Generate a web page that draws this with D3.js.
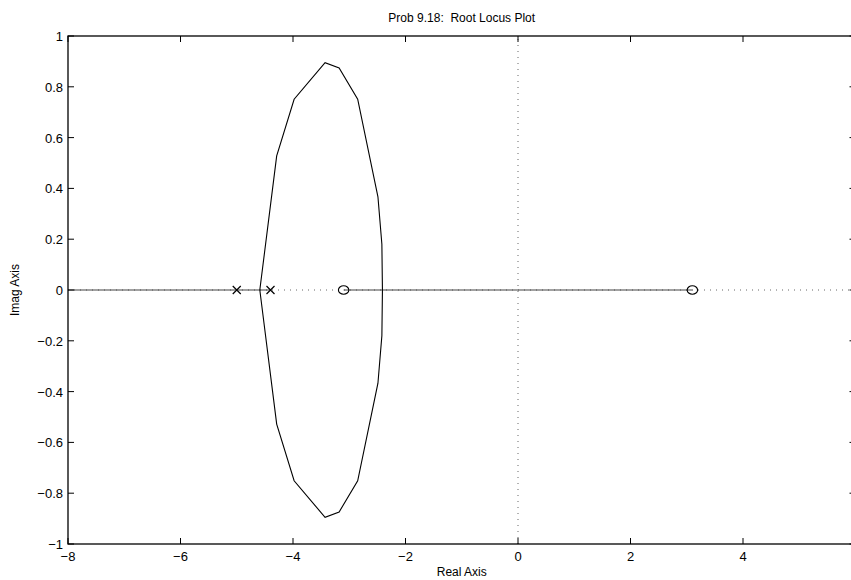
<!DOCTYPE html>
<html>
<head>
<meta charset="utf-8">
<script src="https://cdn.jsdelivr.net/npm/d3@7"></script>
<style>
  body { margin: 0; background: #fff; }
  text { font-family: "Liberation Sans", Arial, sans-serif; white-space: pre; }
</style>
</head>
<body>
<div id="chart"></div>
<script>
// root locus, upper half of the loop (lower half is the mirror image)
var loopRe = [-4.59, -4.29, -3.98, -3.43, -3.18, -2.85, -2.49, -2.42, -2.41];
var loopIm = [0, 0.528, 0.751, 0.895, 0.874, 0.751, 0.367, 0.18, 0];

// parts of the real axis that belong to the locus
var segStart = [-8, -3.1];
var segEnd = [-4.4, 3.1];

var poles = [-5, -4.4];
var zeros = [-3.1, 3.1];

var xTicks = [-8, -6, -4, -2, 0, 2, 4, 6];
var yTicks = [-1, -0.8, -0.6, -0.4, -0.2, 0, 0.2, 0.4, 0.6, 0.8, 1];

var width = 851, height = 580;
var mLeft = 68, mTop = 36, plotW = 787.5, plotH = 508;

var svg = d3.select('#chart').append('svg')
  .attr('width', width)
  .attr('height', height);

var x = d3.scaleLinear().domain([-8, 6]).range([mLeft, mLeft + plotW]);
var y = d3.scaleLinear().domain([-1, 1]).range([mTop + plotH, mTop]);

function fmt(v) {
  var s = d3.format('~g')(+v.toFixed(2));
  return s.replace('-', '\u2212');
}

svg.append('clipPath').attr('id', 'clip')
  .append('rect')
  .attr('x', mLeft).attr('y', mTop)
  .attr('width', plotW).attr('height', plotH);

var plot = svg.append('g').attr('clip-path', 'url(#clip)');

// dotted zero lines
plot.append('line')
  .attr('x1', x(-8)).attr('x2', x(6))
  .attr('y1', y(0)).attr('y2', y(0))
  .attr('stroke', '#666').attr('stroke-width', 1)
  .attr('stroke-dasharray', '1,5');
plot.append('line')
  .attr('x1', x(0)).attr('x2', x(0))
  .attr('y1', y(-1)).attr('y2', y(1))
  .attr('stroke', '#666').attr('stroke-width', 1)
  .attr('stroke-dasharray', '1,5');

// real axis locus
segStart.forEach(function(s, i) {
  plot.append('line')
    .attr('x1', x(s)).attr('x2', x(segEnd[i]))
    .attr('y1', y(0)).attr('y2', y(0))
    .attr('stroke', '#444').attr('stroke-width', 1.2);
});

var line = d3.line()
  .x(function(d) { return x(d[0]); })
  .y(function(d) { return y(d[1]); });

var upper = loopRe.map(function(r, i) { return [r, loopIm[i]]; });
var lower = loopRe.map(function(r, i) { return [r, -loopIm[i]]; });

[upper, lower].forEach(function(pts) {
  plot.append('path')
    .attr('d', line(pts))
    .attr('fill', 'none')
    .attr('stroke', '#000')
    .attr('stroke-width', 1.1);
});

// poles
var s = 4;
poles.forEach(function(p) {
  var cx = x(p), cy = y(0);
  plot.append('path')
    .attr('d', 'M' + (cx - s) + ',' + (cy - s) + 'L' + (cx + s) + ',' + (cy + s) +
               'M' + (cx - s) + ',' + (cy + s) + 'L' + (cx + s) + ',' + (cy - s))
    .attr('stroke', '#000').attr('stroke-width', 1.2);
});

// zeros
zeros.forEach(function(z) {
  plot.append('ellipse')
    .attr('cx', x(z)).attr('cy', y(0))
    .attr('rx', 5.2).attr('ry', 4.3)
    .attr('fill', 'none')
    .attr('stroke', '#000').attr('stroke-width', 1.1);
});

// box and ticks
var axes = svg.append('g');
var tl = 6;
axes.append('rect')
  .attr('x', mLeft).attr('y', mTop)
  .attr('width', plotW).attr('height', plotH)
  .attr('fill', 'none')
  .attr('stroke', '#000').attr('stroke-width', 1.3);

xTicks.forEach(function(t) {
  axes.append('line')
    .attr('x1', x(t)).attr('x2', x(t))
    .attr('y1', mTop + plotH).attr('y2', mTop + plotH - tl)
    .attr('stroke', '#000');
  axes.append('line')
    .attr('x1', x(t)).attr('x2', x(t))
    .attr('y1', mTop).attr('y2', mTop + tl)
    .attr('stroke', '#000');
  axes.append('text')
    .attr('x', x(t)).attr('y', mTop + plotH + 17)
    .attr('text-anchor', 'middle')
    .attr('font-size', 13)
    .text(fmt(t));
});

yTicks.forEach(function(t) {
  axes.append('line')
    .attr('x1', mLeft).attr('x2', mLeft + tl)
    .attr('y1', y(t)).attr('y2', y(t))
    .attr('stroke', '#000');
  axes.append('line')
    .attr('x1', mLeft + plotW).attr('x2', mLeft + plotW - tl)
    .attr('y1', y(t)).attr('y2', y(t))
    .attr('stroke', '#000');
  axes.append('text')
    .attr('x', mLeft - 5).attr('y', y(t) + 5)
    .attr('text-anchor', 'end')
    .attr('font-size', 13)
    .text(fmt(t));
});

svg.append('text')
  .attr('x', mLeft + plotW / 2).attr('y', 22)
  .attr('text-anchor', 'middle')
  .attr('font-size', 12)
  .text('Prob 9.18:  Root Locus Plot');

svg.append('text')
  .attr('x', mLeft + plotW / 2).attr('y', 576)
  .attr('text-anchor', 'middle')
  .attr('font-size', 12)
  .text('Real Axis');

svg.append('text')
  .attr('transform', 'translate(19,' + (mTop + plotH / 2) + ') rotate(-90)')
  .attr('text-anchor', 'middle')
  .attr('font-size', 12)
  .text('Imag Axis');
</script>
</body>
</html>
